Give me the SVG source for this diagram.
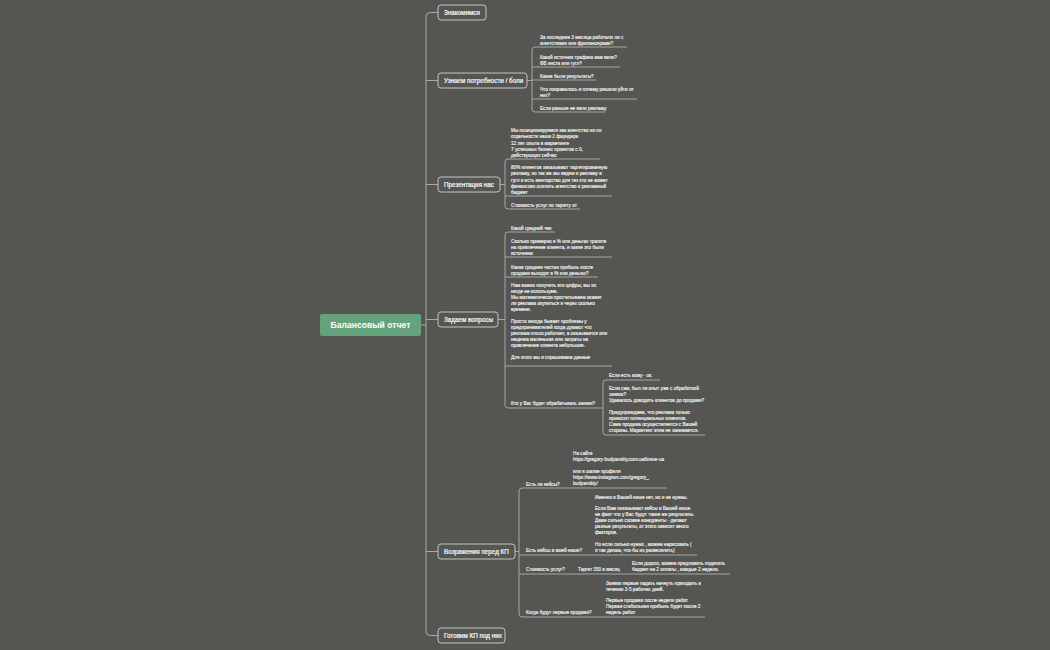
<svg xmlns="http://www.w3.org/2000/svg" width="1050" height="650" viewBox="0 0 1050 650">
<style>
.bg{fill:#555652}
.ln{fill:none;stroke:#a6a7a3;stroke-width:1}
.nb{fill:#555652;stroke:#c4c5c1;stroke-width:1}
.nt{font-family:"Liberation Sans",Arial,sans-serif;font-size:6.3px;fill:#f5f5f5;stroke:#f5f5f5;stroke-width:0.22}
.ct{font-family:"Liberation Sans",Arial,sans-serif;font-size:4.7px;fill:#f2f2f2;stroke:#f2f2f2;stroke-width:0.15}
.rt{font-family:"Liberation Sans",Arial,sans-serif;font-size:8.6px;font-weight:bold;fill:#ffffff}
</style>
<rect class="bg" x="0" y="0" width="1050" height="650"/>

<g id="connectors">
<path class="ln" d="M421,325 H426"/>
<path class="ln" d="M438,12.5 H430 Q426,12.5 426,16.5 V631.5 Q426,635.5 430,635.5 H438"/>
<path class="ln" d="M426,80.5 H438 M426,184.5 H438 M426,319.5 H438 M426,551.5 H438"/>
<path class="ln" d="M527,80.5 H532"/>
<path class="ln" d="M627,47 H535 Q532,47 532,50 V109 Q532,112 535,112 H605"/>
<path class="ln" d="M532,67 H620 M532,80 H596 M532,99 H637"/>
<path class="ln" d="M500,184.5 H505"/>
<path class="ln" d="M600,159 H508 Q505,159 505,162 V206 Q505,209 508,209 H580"/>
<path class="ln" d="M505,196 H612"/>
<path class="ln" d="M498,319.5 H505"/>
<path class="ln" d="M555,232 H508 Q505,232 505,235 V405 Q505,408 508,408 H600"/>
<path class="ln" d="M505,257 H612 M505,277 H598 M505,366 H612"/>
<path class="ln" d="M600,408 H603"/>
<path class="ln" d="M660,380 H606 Q603,380 603,383 V432 Q603,435 606,435 H705"/>
<path class="ln" d="M515,551.5 H519"/>
<path class="ln" d="M667,488 H522 Q519,488 519,491 V614 Q519,617 522,617 H705"/>
<path class="ln" d="M519,555 H697 M519,574 H730"/>
</g>

<g id="root">
<rect x="320" y="314" width="101" height="22" rx="2" fill="#63a27b"/>
<text class="rt" x="370.5" y="328" text-anchor="middle">Балансовый отчет</text>
</g>

<g id="n-znakomimsya">
<rect class="nb" x="438" y="5" width="48" height="15" rx="3"/>
<text class="nt" x="444" y="14.7">Знакомимся</text>
</g>

<g id="n-potrebnosti">
<rect class="nb" x="438" y="73" width="89" height="15" rx="3"/>
<text class="nt" x="444" y="82.7">Узнаем потребности / боли</text>
</g>
<g id="n-potrebnosti-c">
<text class="ct" x="540" y="38.5">За последние 3 месяца работали ли с</text>
<text class="ct" x="540" y="44.5">агентствами или фрилансерами?</text>
<text class="ct" x="540" y="58.5">Какой источник трафика вам вели?</text>
<text class="ct" x="540" y="64.5">ФБ инста или гугл?</text>
<text class="ct" x="540" y="77.5">Какие были результаты?</text>
<text class="ct" x="540" y="90.5">Что понравилось и почему решили уйти от</text>
<text class="ct" x="540" y="96.5">них?</text>
<text class="ct" x="540" y="109.5">Если раньше не вели рекламу</text>
</g>

<g id="n-prezentaciya">
<rect class="nb" x="438" y="177" width="62" height="15" rx="3"/>
<text class="nt" x="444" y="186.7">Презентация нас</text>
</g>
<g id="n-prezentaciya-c">
<text class="ct" x="511" y="132.3">Мы позиционируемся как агентство но по</text>
<text class="ct" x="511" y="138.4">отдельности наши 2 фаундера</text>
<text class="ct" x="511" y="144.5">12 лет опыта в маркетинге</text>
<text class="ct" x="511" y="150.6">7 успешных бизнес проектов с 0,</text>
<text class="ct" x="511" y="156.5">действующих сейчас</text>
<text class="ct" x="511" y="169.3">80% клиентов заказывают таргетированную</text>
<text class="ct" x="511" y="175.4">рекламу, но так же мы ведем и рекламу в</text>
<text class="ct" x="511" y="181.5">гугл и есть менторство для тех кто не может</text>
<text class="ct" x="511" y="187.6">финансово осилить агентство и рекламный</text>
<text class="ct" x="511" y="193.5">бюджет</text>
<text class="ct" x="511" y="206.5">Стоимость услуг по таргету от</text>
</g>

<g id="n-voprosy">
<rect class="nb" x="438" y="312" width="60" height="15" rx="3"/>
<text class="nt" x="444" y="321.7">Задаем вопросы</text>
</g>
<g id="n-voprosy-c">
<text class="ct" x="511" y="229.5">Какой средний чек</text>
<text class="ct" x="511" y="242.5">Сколько примерно в % или деньгах тратите</text>
<text class="ct" x="511" y="248.5">на привлечение клиента, и какие это были</text>
<text class="ct" x="511" y="254.5">источники</text>
<text class="ct" x="511" y="268.5">Какая средняя чистая прибыль после</text>
<text class="ct" x="511" y="274.5">продажи выходит в % или деньгах?</text>
<text class="ct" x="511" y="287">Нам важно получить эти цифры, мы их</text>
<text class="ct" x="511" y="293">нигде не используем.</text>
<text class="ct" x="511" y="299">Мы математически просчитываем окажет</text>
<text class="ct" x="511" y="305">ли реклама окупиться и через сколько</text>
<text class="ct" x="511" y="311">времени.</text>
<text class="ct" x="511" y="323">Просто иногда бывает проблемы у</text>
<text class="ct" x="511" y="329">предпринимателей когда думают что</text>
<text class="ct" x="511" y="335">реклама плохо работает, а оказывается или</text>
<text class="ct" x="511" y="341">наценка маленькая или затраты на</text>
<text class="ct" x="511" y="347">привлечение клиента небольшие.</text>
<text class="ct" x="511" y="359">Для этого мы и спрашиваем данные</text>
<text class="ct" x="511" y="405">Кто у Вас будет обрабатывать заявки?</text>
</g>
<g id="n-zayavki-c">
<text class="ct" x="609" y="377">Если есть кому - ок.</text>
<text class="ct" x="609" y="390">Если сам, был ли опыт уже с обработкой</text>
<text class="ct" x="609" y="396">заявок?</text>
<text class="ct" x="609" y="402">Удавалось доводить клиентов до продажи?</text>
<text class="ct" x="609" y="414">Предупреждаем, что реклама только</text>
<text class="ct" x="609" y="420">приносит потенциальных клиентов.</text>
<text class="ct" x="609" y="426">Сама продажа осуществляется с Вашей</text>
<text class="ct" x="609" y="432">стороны. Маркетинг этим не занимается.</text>
</g>

<g id="n-vozrazheniya">
<rect class="nb" x="438" y="544" width="77" height="15" rx="3"/>
<text class="nt" x="444" y="553.7">Возражения перед КП</text>
</g>
<g id="n-vozrazheniya-c">
<text class="ct" x="526" y="485.5">Есть ли кейсы?</text>
<text class="ct" x="573" y="454.5">На сайте</text>
<text class="ct" x="573" y="460.5">https://gregory-budyanskiy.com.ua/brave-ua</text>
<text class="ct" x="573" y="472.5">или в шапке профиля</text>
<text class="ct" x="573" y="478.5">https://www.instagram.com/gregory_</text>
<text class="ct" x="573" y="484.5">budyanskiy/</text>
<text class="ct" x="526" y="552">Есть кейсы в моей нише?</text>
<text class="ct" x="595" y="498.5">Именно в Вашей нише нет, но и не нужны.</text>
<text class="ct" x="595" y="510.3">Если Вам показывают кейсы в Вашей нише</text>
<text class="ct" x="595" y="516.2">не факт что у Вас будут такие же результаты.</text>
<text class="ct" x="595" y="522.1">Даже сильно схожие конкуренты - делают</text>
<text class="ct" x="595" y="528">разные результаты, от этого зависит много</text>
<text class="ct" x="595" y="533.9">факторов.</text>
<text class="ct" x="595" y="545.7">Но если сильно нужно , можем нарисовать (</text>
<text class="ct" x="595" y="551.6">я так делаю, что-бы их развеселить)</text>
<text class="ct" x="526" y="571">Стоимость услуг?</text>
<text class="ct" x="578" y="571">Таргет 350 в месяц</text>
<text class="ct" x="632" y="565">Если дорого, можем предложить поделить</text>
<text class="ct" x="632" y="571">бюджет на 2 оплаты , каждые 2 недели.</text>
<text class="ct" x="526" y="614">Когда будут первые продажи?</text>
<text class="ct" x="606" y="584.7">Заявки первые падать начнуть приходить в</text>
<text class="ct" x="606" y="590.7">течении 3-5 рабочих дней.</text>
<text class="ct" x="606" y="602.3">Первые продажи после недели работ</text>
<text class="ct" x="606" y="608.2">Первая стабильная прибыль будет после 2</text>
<text class="ct" x="606" y="614.1">недель работ</text>
</g>

<g id="n-kp">
<rect class="nb" x="438" y="628" width="67" height="15" rx="3"/>
<text class="nt" x="444" y="637.7">Готовим КП под них</text>
</g>
</svg>
